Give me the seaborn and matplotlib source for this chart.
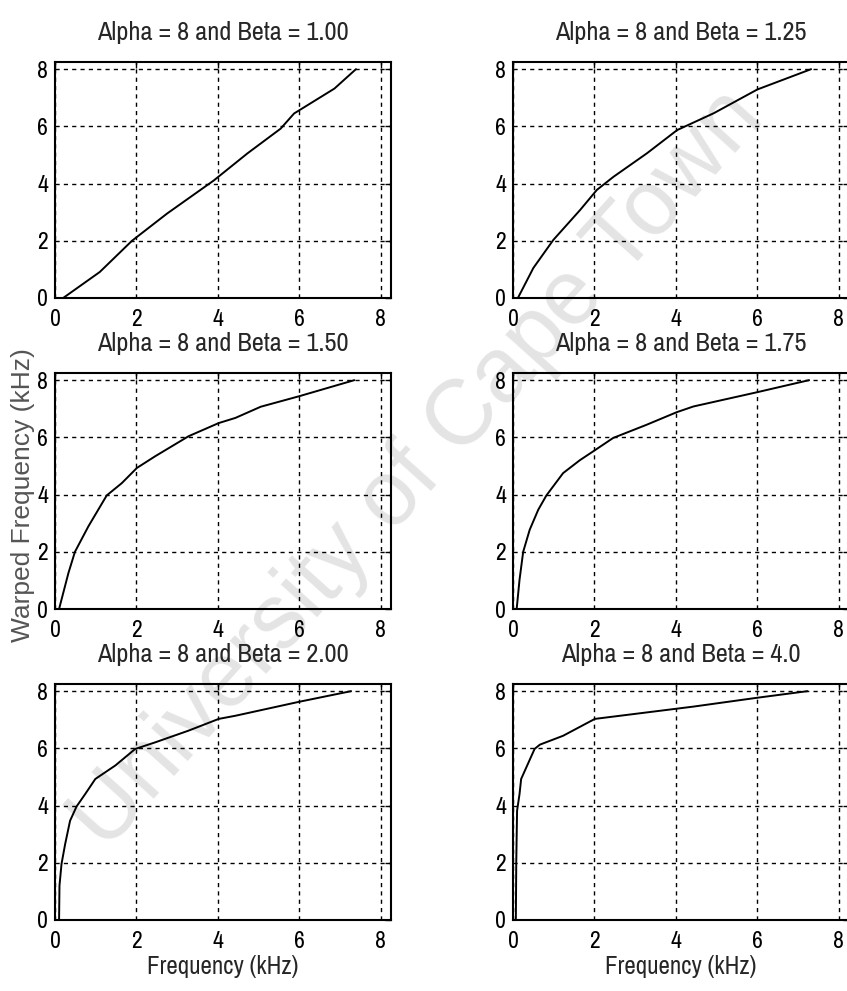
import numpy as np
import pandas as pd
import matplotlib
matplotlib.use("Agg")
import matplotlib.pyplot as plt
import seaborn as sns
from matplotlib import font_manager

# ---- data ----
betas = ["1.00", "1.25", "1.50", "1.75", "2.00", "4.0"]

x_b100 = [0.2, 1.1, 1.89, 2.75, 3.9, 4.72, 5.54, 5.87, 6.53, 6.86, 7.39]
y_b100 = [0.0, 0.91, 2.0, 2.95, 4.11, 5.05, 5.92, 6.45, 7.03, 7.32, 8.0]

x_b125 = [0.12, 0.5, 0.99, 1.65, 2.06, 2.47, 3.29, 4.03, 4.93, 6.0, 7.32]
y_b125 = [0.0, 1.05, 2.03, 3.08, 3.78, 4.24, 5.06, 5.87, 6.46, 7.29, 8.0]

x_b150 = [0.1, 0.33, 0.49, 0.82, 1.27, 1.64, 2.01, 2.46, 3.28, 4.02, 4.43, 5.05, 6.0, 7.35]
y_b150 = [0.0, 1.26, 2.0, 2.89, 3.97, 4.4, 4.93, 5.34, 6.04, 6.5, 6.68, 7.07, 7.44, 8.0]

x_b175 = [0.09, 0.16, 0.25, 0.41, 0.62, 0.82, 1.23, 1.64, 2.01, 2.46, 3.28, 4.02, 4.43, 6.0, 7.27]
y_b175 = [0.0, 1.02, 2.0, 2.77, 3.47, 3.97, 4.75, 5.2, 5.55, 5.98, 6.44, 6.88, 7.08, 7.58, 8.0]

x_b200 = [0.1, 0.11, 0.16, 0.25, 0.37, 0.53, 0.74, 0.99, 1.48, 1.97, 2.46, 3.28, 4.02, 4.43, 6.0, 7.27]
y_b200 = [0.0, 1.2, 1.96, 2.66, 3.47, 3.97, 4.4, 4.93, 5.4, 5.98, 6.21, 6.62, 7.03, 7.14, 7.63, 8.0]

x_b400 = [0.07, 0.08, 0.1, 0.16, 0.2, 0.53, 0.66, 1.23, 2.01, 4.43, 6.0, 7.23]
y_b400 = [0.0, 2.0, 3.82, 4.4, 4.93, 5.98, 6.13, 6.44, 7.03, 7.46, 7.77, 8.0]

series_x = [x_b100, x_b125, x_b150, x_b175, x_b200, x_b400]
series_y = [y_b100, y_b125, y_b150, y_b175, y_b200, y_b400]

ticks = [0, 2, 4, 6, 8]
tick_labels = ["0", "2", "4", "6", "8"]

# ---- style ----
sns.set_style("white")
names = {f.name for f in font_manager.fontManager.ttflist}
candidates = ["Liberation Sans Narrow", "Arial Narrow", "Archivo Narrow",
              "PT Sans Narrow", "Roboto Condensed", "Pragati Narrow",
              "Liberation Sans"]
narrow = next((c for c in candidates if c in names), "DejaVu Sans")
plt.rcParams["font.family"] = [narrow, "DejaVu Sans"]

W, H = 847, 991
fig = plt.figure(figsize=(W / 100, H / 100), dpi=100)
fig.patch.set_facecolor("white")

# watermark
fig.text(418 / W, 1 - 470 / H, "University of Cape Town", rotation=48,
         fontsize=66, color="#e4e4e4", ha="center", va="center",
         family=["Liberation Sans", "DejaVu Sans"], zorder=-1)

col_left = [55, 513]
row_top = [62, 373, 684]
aw, ah = 336, 236

for i in range(6):
    r, c = divmod(i, 2)
    l = col_left[c] / W
    b = 1 - (row_top[r] + ah) / H
    ax = fig.add_axes([l, b, aw / W, ah / H])
    ax.set_facecolor("none")
    df = pd.DataFrame({"f": series_x[i], "w": series_y[i]})
    sns.lineplot(data=df, x="f", y="w", ax=ax, color="black", linewidth=1.4,
                 sort=False, estimator=None)
    ax.set_xlim(0, 8.25)
    ax.set_ylim(0, 8.25)
    ax.set_xticks(ticks)
    ax.set_xticklabels(tick_labels)
    ax.set_yticks(ticks)
    ax.set_yticklabels(tick_labels)
    ax.grid(True, color="black", linestyle=(0, (3, 3)), linewidth=1.0)
    for s in ax.spines.values():
        s.set_color("black")
        s.set_linewidth(1.5)
    ax.tick_params(direction="in", length=4, width=1, labelsize=17,
                   top=True, right=True, pad=5, colors="black")
    ax.tick_params(axis="x", pad=8)
    ax.set_title(f"Alpha = 8 and Beta = {betas[i]}", fontsize=19, pad=16)
    ax.set_xlabel("")
    ax.set_ylabel("")
    if r == 2:
        ax.set_xlabel("Frequency (kHz)", fontsize=18, labelpad=2)

fig.text(23 / W, 1 - 495 / H, "Warped Frequency (kHz)", rotation=90,
         fontsize=19, color="#555555", ha="center", va="center",
         family=["Liberation Sans", "DejaVu Sans"])

fig.savefig("out.png", dpi=100)
